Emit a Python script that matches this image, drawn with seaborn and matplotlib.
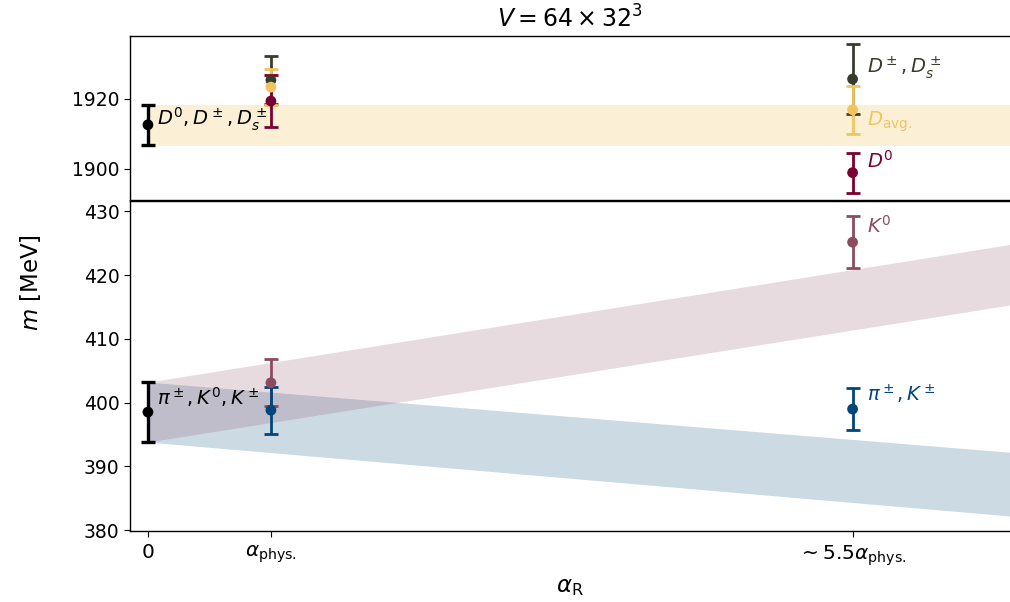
import numpy as np
import pandas as pd
import matplotlib.pyplot as plt
import seaborn as sns

# ============================================
# DATA
# ============================================

# x positions in units of alpha_phys
x_ticks = [0.0, 1.0, 5.73]
x_ticklabels = ['$0$', r'$\alpha_{\rm phys.}$', r'$\sim 5.5\alpha_{\rm phys.}$']
x_sim = [1.0, 5.73]

# heavy mesons (top panel), MeV
d_ref_m, d_ref_err = [1912.6], [5.7]
d_pm_m, d_pm_err = [1925.4, 1925.7], [6.9, 10.0]
d_avg_m, d_avg_err = [1923.4, 1916.9], [5.1, 6.9]
d0_m, d0_err = [1919.4, 1898.9], [7.5, 5.7]

# light mesons (bottom panel), MeV
pk_ref_m, pk_ref_err = [398.5], [4.7]
k0_m, k0_err = [403.1, 425.15], [3.7, 4.05]
pi_m, pi_err = [398.8, 398.97], [3.7, 3.3]

# bands: value at the two ends of the x range
band_x = [0.0, 7.01]
d_band_lo, d_band_hi = [1906.6, 1906.6], [1918.3, 1918.3]
k0_band_lo, k0_band_hi = [393.8, 415.3], [403.2, 424.8]
pi_band_lo, pi_band_hi = [393.8, 382.2], [403.2, 392.2]

# colours
c_ref = '#000000'
c_dpm = '#383d2b'
c_avg = '#f0c45f'
c_d0 = '#7b0032'
c_k0 = '#8c4b5f'
c_pi = '#00467a'

# ============================================
# STYLE
# ============================================

sns.set_style('ticks', rc={'axes.edgecolor': 'black', 'xtick.color': 'black',
                           'ytick.color': 'black', 'text.color': 'black',
                           'axes.labelcolor': 'black'})
plt.rcParams['font.family'] = ['DejaVu Sans']
plt.rcParams['mathtext.fontset'] = 'dejavusans'
plt.rcParams['axes.linewidth'] = 1.0

fig = plt.figure(figsize=(10.1, 6.02), dpi=100)
ax_top = fig.add_axes([0.1287, 0.668, 0.8713, 0.272])
ax_bot = fig.add_axes([0.1287, 0.118, 0.8713, 0.548], sharex=ax_top)

eb_kw = dict(fmt='none', capsize=5.2)


def draw_series(ax, xs, ms, errs, color, lw=2.0):
    ax.errorbar(xs, ms, yerr=errs, ecolor=color, elinewidth=lw, capthick=lw, **eb_kw)


label_size = 14

# ============================================
# TOP PANEL: D MESONS
# ============================================

ax_top.fill_between(band_x, d_band_lo, d_band_hi, color=c_avg, alpha=0.25, lw=0, zorder=0)
draw_series(ax_top, [0.0], d_ref_m, d_ref_err, c_ref, lw=2.4)
draw_series(ax_top, x_sim, d_pm_m, d_pm_err, c_dpm)
draw_series(ax_top, x_sim, d_avg_m, d_avg_err, c_avg)
draw_series(ax_top, x_sim, d0_m, d0_err, c_d0)

top_df = pd.DataFrame({
    'x': [0.0] + x_sim + x_sim + x_sim,
    'm': d_ref_m + d_pm_m + d_avg_m + d0_m,
    'kind': ['ref'] + ['dpm'] * 2 + ['avg'] * 2 + ['d0'] * 2,
})
sns.scatterplot(data=top_df, x='x', y='m', hue='kind', ax=ax_top, legend=False, s=60,
                palette={'ref': c_ref, 'dpm': c_dpm, 'avg': c_avg, 'd0': c_d0},
                edgecolor='none', zorder=3)

ax_top.text(0.073, 1912.6, r'$D^0, D^\pm, D_s^\pm$', fontsize=label_size, va='baseline', color=c_ref)
ax_top.text(5.85, 1927.4, r'$D^\pm, D_s^\pm$', fontsize=label_size, va='baseline', color=c_dpm)
ax_top.text(5.85, 1912.3, r'$D_{\rm avg.}$', fontsize=label_size, va='baseline', color=c_avg)
ax_top.text(5.85, 1900.3, r'$D^0$', fontsize=label_size, va='baseline', color=c_d0)

ax_top.set_ylim(1891.1, 1938.0)
ax_top.set_yticks([1900, 1920])
ax_top.tick_params(axis='x', bottom=False, labelbottom=False)
ax_top.set_xlabel('')
ax_top.set_ylabel('')
ax_top.set_title(r'$V = 64 \times 32^3$', fontsize=17, pad=6)

# ============================================
# BOTTOM PANEL: PIONS AND KAONS
# ============================================

ax_bot.fill_between(band_x, pi_band_lo, pi_band_hi, color=c_pi, alpha=0.2, lw=0, zorder=0)
ax_bot.fill_between(band_x, k0_band_lo, k0_band_hi, color=c_k0, alpha=0.2, lw=0, zorder=0)
draw_series(ax_bot, [0.0], pk_ref_m, pk_ref_err, c_ref, lw=2.4)
draw_series(ax_bot, x_sim, k0_m, k0_err, c_k0)
draw_series(ax_bot, x_sim, pi_m, pi_err, c_pi)

bot_df = pd.DataFrame({
    'x': [0.0] + x_sim + x_sim,
    'm': pk_ref_m + k0_m + pi_m,
    'kind': ['ref'] + ['k0'] * 2 + ['pi'] * 2,
})
sns.scatterplot(data=bot_df, x='x', y='m', hue='kind', ax=ax_bot, legend=False, s=60,
                palette={'ref': c_ref, 'k0': c_k0, 'pi': c_pi},
                edgecolor='none', zorder=3)

ax_bot.text(0.073, 399.6, r'$\pi^\pm, K^0, K^\pm$', fontsize=label_size, va='baseline', color=c_ref)
ax_bot.text(5.85, 426.55, r'$K^0$', fontsize=label_size, va='baseline', color=c_k0)
ax_bot.text(5.85, 400.1, r'$\pi^\pm, K^\pm$', fontsize=label_size, va='baseline', color=c_pi)

ax_bot.set_ylim(379.85, 431.6)
ax_bot.set_yticks([380, 390, 400, 410, 420, 430])
ax_bot.set_xlim(-0.146, 7.01)
ax_bot.set_xticks(x_ticks)
ax_bot.set_xticklabels(x_ticklabels)
ax_bot.set_xlabel(r'$\alpha_{\rm R}$', fontsize=16.5, labelpad=5)
ax_bot.set_ylabel('')

for ax in (ax_top, ax_bot):
    ax.spines['right'].set_visible(False)
    ax.tick_params(axis='y', labelsize=13.5, length=4)
ax_bot.tick_params(axis='x', labelsize=14.5, length=4, pad=5)

fig.text(0.03, 0.53, '$m$ [MeV]', rotation=90, fontsize=16.5, ha='center', va='center')

fig.savefig('out.png', dpi=100)
